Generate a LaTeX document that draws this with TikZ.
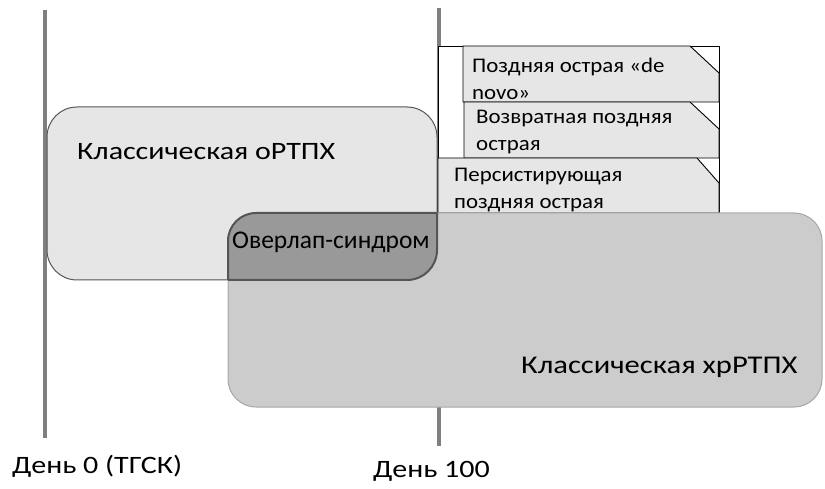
\documentclass[tikz,border=0pt]{standalone}
\usepackage{fontspec}
\setmainfont{Carlito}[FakeStretch=1.2]
\newfontfamily\calplain{Carlito}
\newfontfamily\calmid{Carlito}[FakeStretch=1.1]
\begin{document}
\begin{tikzpicture}[x=1pt,y=-1pt,
  tl/.style={draw=lineg,line width=4pt},
  rbox/.style={rectangle,inner sep=0pt,outer sep=0pt},
  note/.style={draw=black,line width=0.9pt,fill=clsfill},
  lbl/.style={anchor=west,inner sep=0pt,align=left,text=black},
  big/.style={font=\fontsize{25}{29}\selectfont},
  mid/.style={font=\calplain\fontsize{25.5}{29}\selectfont},
  small/.style={font=\calmid\fontsize{20.8}{27}\selectfont},
  day/.style={font=\fontsize{25}{30}\selectfont}]
\definecolor{lineg}{HTML}{7F7F7F}
\definecolor{clsfill}{HTML}{E6E6E6}
\definecolor{chrfill}{HTML}{CCCCCC}
\definecolor{ovfill}{HTML}{999999}
\definecolor{dborder}{HTML}{555555}
\definecolor{lborder}{HTML}{A6A6A6}
\useasboundingbox (0,0) rectangle (825,489);
% timelines
\coordinate (l0top) at (45,10); \coordinate (l0bot) at (45,438);
\coordinate (l1top) at (438.5,8); \coordinate (l1bot) at (438.5,446);
\draw[tl] (l0top) -- (l0bot);
\draw[tl] (l1top) -- (l1bot);
% classical acute
\node[rbox,draw=dborder,line width=1pt,fill=clsfill,rounded corners=30pt,minimum width=390pt,minimum height=173pt] (cls) at (242,193.5) {};
% late acute boxes
\node[rbox,draw=black,line width=0.9pt,fill=white,minimum width=281pt,minimum height=167pt] (late) at (578.5,129.5) {};
\draw[note] (463,102) -- (463,46) -- (690,46) -- (719,73) -- (719,102) -- cycle;
\draw[note] (464,158) -- (464,102) -- (690,102) -- (719,129) -- (719,158) -- cycle;
\draw[note] (438,213) -- (438,158) -- (697,158) -- (719,183) -- (719,213) -- cycle;
% chronic
\node[rbox,draw=lborder,line width=1pt,fill=chrfill,rounded corners=28pt,minimum width=594pt,minimum height=194pt] (chr) at (525,310) {};
% overlap = intersection
\begin{scope}
  \clip[rounded corners=30pt] (47,107) rectangle (437,280);
  \draw[draw=dborder,line width=2pt,fill=ovfill,rounded corners=28pt] (228,213) rectangle (822,407);
\end{scope}
\begin{scope}
  \clip[rounded corners=28pt] (228,213) rectangle (822,407);
  \draw[draw=dborder,line width=2pt,rounded corners=30pt] (47,107) rectangle (437,280);
\end{scope}
% texts
\node[lbl,big] (clsT) at (77,152) {Классическая оРТПХ};
\node[lbl,mid] (ovT) at (232,242) {Оверлап-синдром};
\node[lbl,font=\fontsize{25.5}{29}\selectfont] (chrT) at (521,367) {Классическая хрРТПХ};
\node[lbl,small] (n1) at (472,79) {Поздняя острая «de\\novo»};
\node[lbl,small] (n2) at (476,132) {Возвратная поздняя\\острая};
\node[lbl,small] (n3) at (454,190) {Персистирующая\\поздняя острая};
\node[lbl,day] (d0) at (12,466) {День 0 (ТГСК)};
\node[lbl,day] (d100) at (373,471) {День 100};
\end{tikzpicture}
\end{document}
